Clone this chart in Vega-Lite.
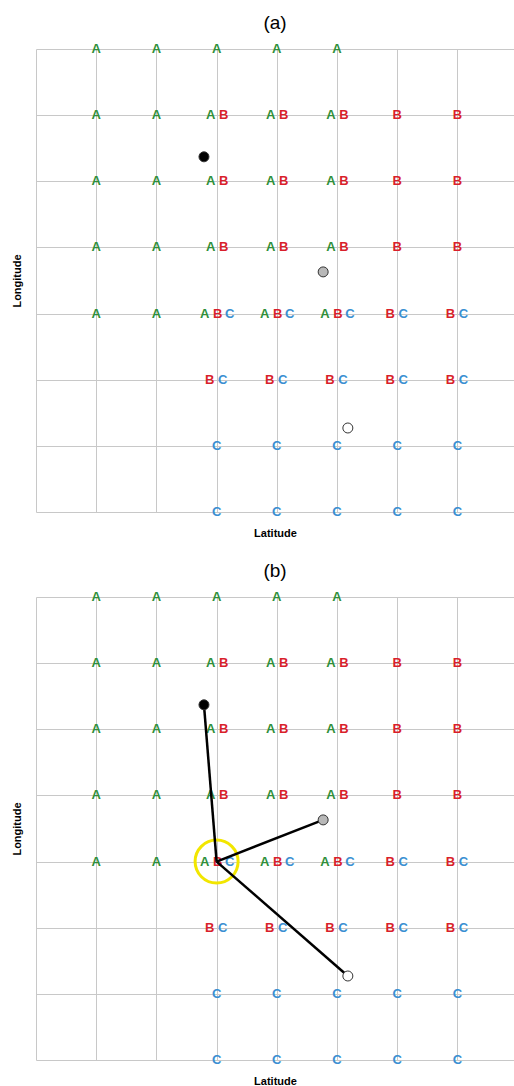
{
  "$schema": "https://vega.github.io/schema/vega-lite/v6.json",
  "padding": {"left": 11, "top": 14, "right": 0, "bottom": 0},
  "spacing": 24,
  "datasets": {
    "cells": [
      {"lat": 1, "lon": 7, "set": "A"}, {"lat": 2, "lon": 7, "set": "A"}, {"lat": 3, "lon": 7, "set": "A"}, {"lat": 4, "lon": 7, "set": "A"}, {"lat": 5, "lon": 7, "set": "A"},
      {"lat": 1, "lon": 6, "set": "A"}, {"lat": 2, "lon": 6, "set": "A"}, {"lat": 3, "lon": 6, "set": "AB"}, {"lat": 4, "lon": 6, "set": "AB"}, {"lat": 5, "lon": 6, "set": "AB"}, {"lat": 6, "lon": 6, "set": "B"}, {"lat": 7, "lon": 6, "set": "B"},
      {"lat": 1, "lon": 5, "set": "A"}, {"lat": 2, "lon": 5, "set": "A"}, {"lat": 3, "lon": 5, "set": "AB"}, {"lat": 4, "lon": 5, "set": "AB"}, {"lat": 5, "lon": 5, "set": "AB"}, {"lat": 6, "lon": 5, "set": "B"}, {"lat": 7, "lon": 5, "set": "B"},
      {"lat": 1, "lon": 4, "set": "A"}, {"lat": 2, "lon": 4, "set": "A"}, {"lat": 3, "lon": 4, "set": "AB"}, {"lat": 4, "lon": 4, "set": "AB"}, {"lat": 5, "lon": 4, "set": "AB"}, {"lat": 6, "lon": 4, "set": "B"}, {"lat": 7, "lon": 4, "set": "B"},
      {"lat": 1, "lon": 3, "set": "A"}, {"lat": 2, "lon": 3, "set": "A"}, {"lat": 3, "lon": 3, "set": "ABC"}, {"lat": 4, "lon": 3, "set": "ABC"}, {"lat": 5, "lon": 3, "set": "ABC"}, {"lat": 6, "lon": 3, "set": "BC"}, {"lat": 7, "lon": 3, "set": "BC"},
      {"lat": 3, "lon": 2, "set": "BC"}, {"lat": 4, "lon": 2, "set": "BC"}, {"lat": 5, "lon": 2, "set": "BC"}, {"lat": 6, "lon": 2, "set": "BC"}, {"lat": 7, "lon": 2, "set": "BC"},
      {"lat": 3, "lon": 1, "set": "C"}, {"lat": 4, "lon": 1, "set": "C"}, {"lat": 5, "lon": 1, "set": "C"}, {"lat": 6, "lon": 1, "set": "C"}, {"lat": 7, "lon": 1, "set": "C"},
      {"lat": 3, "lon": 0, "set": "C"}, {"lat": 4, "lon": 0, "set": "C"}, {"lat": 5, "lon": 0, "set": "C"}, {"lat": 6, "lon": 0, "set": "C"}, {"lat": 7, "lon": 0, "set": "C"}
    ],
    "points": [
      {"lat": 2.79, "lon": 5.37, "kind": "black"},
      {"lat": 4.77, "lon": 3.63, "kind": "gray"},
      {"lat": 5.18, "lon": 1.27, "kind": "white"}
    ],
    "links": [
      {"lat": 3, "lon": 3, "lat2": 2.79, "lon2": 5.37},
      {"lat": 3, "lon": 3, "lat2": 4.77, "lon2": 3.63},
      {"lat": 3, "lon": 3, "lat2": 5.18, "lon2": 1.27}
    ],
    "center": [{"lat": 3, "lon": 3}]
  },
  "vconcat": [
    {
      "title": "(a)",
      "width": 478,
      "height": 463,
      "encoding": {
        "x": {"field": "lat", "type": "quantitative", "scale": {"domain": [0, 7.94], "nice": false, "zero": false}, "axis": {"title": "Latitude", "values": [0, 1, 2, 3, 4, 5, 6, 7]}},
        "y": {"field": "lon", "type": "quantitative", "scale": {"domain": [0, 7], "nice": false}, "axis": {"title": "Longitude", "values": [0, 1, 2, 3, 4, 5, 6, 7]}}
      },
      "layer": [
        {"data": {"name": "cells"}, "transform": [{"filter": "datum.set == 'A'"}], "mark": {"type": "text", "text": "A", "color": "#2f8f3a", "dx": 0}},
        {"data": {"name": "cells"}, "transform": [{"filter": "datum.set == 'AB'"}], "mark": {"type": "text", "text": "A", "color": "#2f8f3a", "dx": -6}},
        {"data": {"name": "cells"}, "transform": [{"filter": "datum.set == 'ABC'"}], "mark": {"type": "text", "text": "A", "color": "#2f8f3a", "dx": -12}},
        {"data": {"name": "cells"}, "transform": [{"filter": "datum.set == 'B'"}], "mark": {"type": "text", "text": "B", "color": "#d91f2b", "dx": 0}},
        {"data": {"name": "cells"}, "transform": [{"filter": "datum.set == 'AB'"}], "mark": {"type": "text", "text": "B", "color": "#d91f2b", "dx": 7}},
        {"data": {"name": "cells"}, "transform": [{"filter": "datum.set == 'ABC'"}], "mark": {"type": "text", "text": "B", "color": "#d91f2b", "dx": 1}},
        {"data": {"name": "cells"}, "transform": [{"filter": "datum.set == 'BC'"}], "mark": {"type": "text", "text": "B", "color": "#d91f2b", "dx": -7}},
        {"data": {"name": "cells"}, "transform": [{"filter": "datum.set == 'C'"}], "mark": {"type": "text", "text": "C", "color": "#3a8fd2", "dx": 0}},
        {"data": {"name": "cells"}, "transform": [{"filter": "datum.set == 'BC'"}], "mark": {"type": "text", "text": "C", "color": "#3a8fd2", "dx": 6}},
        {"data": {"name": "cells"}, "transform": [{"filter": "datum.set == 'ABC'"}], "mark": {"type": "text", "text": "C", "color": "#3a8fd2", "dx": 13}},
        {"data": {"name": "points"}, "mark": {"type": "point", "shape": "circle", "filled": true, "size": 100, "stroke": "#333333", "strokeWidth": 1, "opacity": 1},
         "encoding": {"fill": {"field": "kind", "type": "nominal", "scale": {"domain": ["black", "gray", "white"], "range": ["#000000", "#b8b8b8", "#ffffff"]}, "legend": null}}}
      ]
    },
    {
      "title": "(b)",
      "width": 478,
      "height": 463,
      "encoding": {
        "x": {"field": "lat", "type": "quantitative", "scale": {"domain": [0, 7.94], "nice": false, "zero": false}, "axis": {"title": "Latitude", "values": [0, 1, 2, 3, 4, 5, 6, 7]}},
        "y": {"field": "lon", "type": "quantitative", "scale": {"domain": [0, 7], "nice": false}, "axis": {"title": "Longitude", "values": [0, 1, 2, 3, 4, 5, 6, 7]}}
      },
      "layer": [
        {"data": {"name": "cells"}, "transform": [{"filter": "datum.set == 'A'"}], "mark": {"type": "text", "text": "A", "color": "#2f8f3a", "dx": 0}},
        {"data": {"name": "cells"}, "transform": [{"filter": "datum.set == 'AB'"}], "mark": {"type": "text", "text": "A", "color": "#2f8f3a", "dx": -6}},
        {"data": {"name": "cells"}, "transform": [{"filter": "datum.set == 'ABC'"}], "mark": {"type": "text", "text": "A", "color": "#2f8f3a", "dx": -12}},
        {"data": {"name": "cells"}, "transform": [{"filter": "datum.set == 'B'"}], "mark": {"type": "text", "text": "B", "color": "#d91f2b", "dx": 0}},
        {"data": {"name": "cells"}, "transform": [{"filter": "datum.set == 'AB'"}], "mark": {"type": "text", "text": "B", "color": "#d91f2b", "dx": 7}},
        {"data": {"name": "cells"}, "transform": [{"filter": "datum.set == 'ABC'"}], "mark": {"type": "text", "text": "B", "color": "#d91f2b", "dx": 1}},
        {"data": {"name": "cells"}, "transform": [{"filter": "datum.set == 'BC'"}], "mark": {"type": "text", "text": "B", "color": "#d91f2b", "dx": -7}},
        {"data": {"name": "cells"}, "transform": [{"filter": "datum.set == 'C'"}], "mark": {"type": "text", "text": "C", "color": "#3a8fd2", "dx": 0}},
        {"data": {"name": "cells"}, "transform": [{"filter": "datum.set == 'BC'"}], "mark": {"type": "text", "text": "C", "color": "#3a8fd2", "dx": 6}},
        {"data": {"name": "cells"}, "transform": [{"filter": "datum.set == 'ABC'"}], "mark": {"type": "text", "text": "C", "color": "#3a8fd2", "dx": 13}},
        {"data": {"name": "center"}, "mark": {"type": "point", "shape": "circle", "filled": false, "size": 1850, "stroke": "#f2e600", "strokeWidth": 3, "opacity": 1}},
        {"data": {"name": "links"}, "mark": {"type": "rule", "color": "#000000", "strokeWidth": 2.5},
         "encoding": {"x2": {"field": "lat2"}, "y2": {"field": "lon2"}}},
        {"data": {"name": "points"}, "mark": {"type": "point", "shape": "circle", "filled": true, "size": 100, "stroke": "#333333", "strokeWidth": 1, "opacity": 1},
         "encoding": {"fill": {"field": "kind", "type": "nominal", "scale": {"domain": ["black", "gray", "white"], "range": ["#000000", "#b8b8b8", "#ffffff"]}, "legend": null}}}
      ]
    }
  ],
  "config": {
    "view": {"stroke": null},
    "font": "Liberation Sans",
    "text": {"font": "Liberation Sans", "fontSize": 13, "fontWeight": "bold", "baseline": "middle", "align": "center"},
    "axis": {"grid": true, "gridColor": "#c8c8c8", "gridWidth": 1, "domain": false, "ticks": false, "labels": false, "titleFont": "Liberation Sans", "titleFontSize": 11, "titleFontWeight": "bold", "titleColor": "#000000"},
    "axisX": {"titlePadding": 15},
    "axisY": {"titlePadding": 14},
    "title": {"font": "Liberation Sans", "fontSize": 19, "fontWeight": "normal", "color": "#000000", "offset": 10, "anchor": "middle"}
  }
}
